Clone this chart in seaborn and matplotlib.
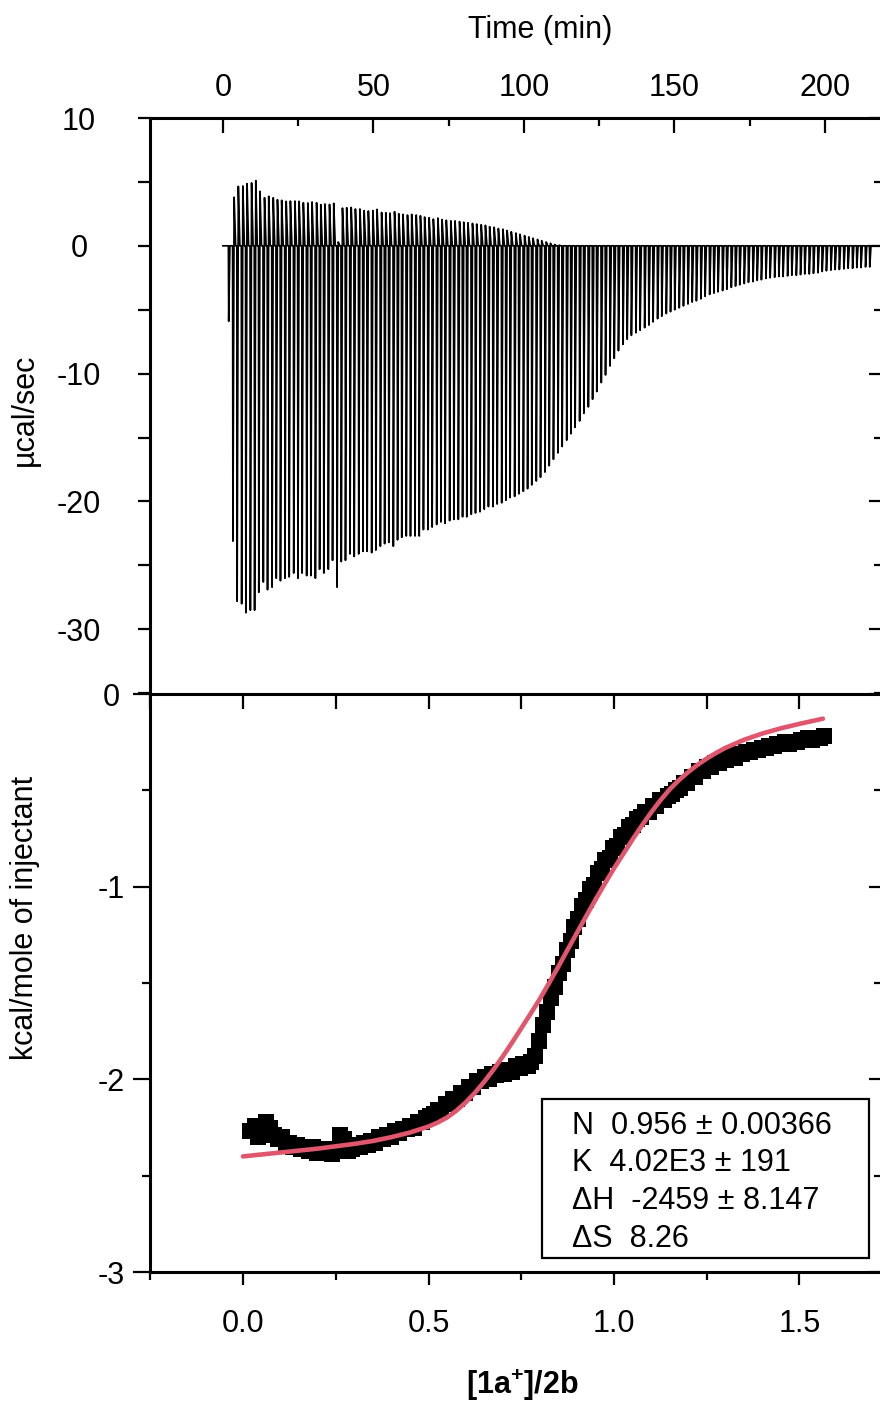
import numpy as np
import pandas as pd
import matplotlib
matplotlib.use("Agg")
import matplotlib.pyplot as plt
from matplotlib.patches import Rectangle
from matplotlib.ticker import MultipleLocator
import seaborn as sns

# ---------------- data ----------------
# injection times (min)
inj_time = [
    1.8, 3.2, 4.6, 6.1, 7.5, 9.0, 10.4, 11.8, 13.3, 14.7,
    16.2, 17.6, 19.0, 20.5, 21.9, 23.4, 24.8, 26.2, 27.7, 29.1,
    30.6, 32.0, 33.4, 34.9, 36.3, 37.8, 39.2, 40.6, 42.1, 43.5,
    45.0, 46.4, 47.8, 49.3, 50.7, 52.2, 53.6, 55.0, 56.5, 57.9,
    59.3, 60.8, 62.2, 63.7, 65.1, 66.5, 68.0, 69.4, 70.9, 72.3,
    73.7, 75.2, 76.6, 78.1, 79.5, 80.9, 82.4, 83.8, 85.3, 86.7,
    88.1, 89.6, 91.0, 92.5, 93.9, 95.3, 96.8, 98.2, 99.7, 101.1,
    102.5, 104.0, 105.4, 106.9, 108.3, 109.7, 111.2, 112.6, 114.1, 115.5,
    116.9, 118.4, 119.8, 121.3, 122.7, 124.1, 125.6, 127.0, 128.5, 129.9,
    131.3, 132.8, 134.2, 135.6, 137.1, 138.5, 140.0, 141.4, 142.8, 144.3,
    145.7, 147.2, 148.6, 150.0, 151.5, 152.9, 154.4, 155.8, 157.2, 158.7,
    160.1, 161.6, 163.0, 164.4, 165.9, 167.3, 168.8, 170.2, 171.6, 173.1,
    174.5, 176.0, 177.4, 178.8, 180.3, 181.7, 183.2, 184.6, 186.0, 187.5,
    188.9, 190.4, 191.8, 193.2, 194.7, 196.1, 197.6, 199.0, 200.4, 201.9,
    203.3, 204.7, 206.2, 207.6, 209.1, 210.5, 211.9, 213.4, 214.8,
]
# most negative value of each injection peak (ucal/sec)
peak_min = [
    -5.9, -23.1, -27.8, -28.0, -28.7, -28.5, -28.5, -27.1, -26.3, -26.9,
    -26.7, -26.0, -26.2, -26.0, -25.9, -25.6, -26.0, -25.6, -25.8, -25.8,
    -26.0, -25.3, -25.6, -25.3, -24.6, -26.7, -24.7, -24.6, -24.1, -24.3,
    -24.1, -23.9, -23.9, -24.0, -23.8, -23.5, -23.3, -23.2, -23.5, -23.0,
    -22.8, -22.7, -22.7, -22.7, -22.7, -22.2, -22.2, -22.0, -21.8, -21.6,
    -21.7, -21.5, -21.4, -21.4, -21.2, -21.2, -21.0, -20.9, -20.8, -20.6,
    -20.4, -20.4, -20.2, -20.1, -19.9, -19.7, -19.6, -19.4, -19.2, -19.0,
    -18.7, -18.4, -18.1, -17.7, -17.2, -16.7, -16.2, -15.7, -15.2, -14.7,
    -14.2, -13.7, -13.1, -12.6, -12.0, -11.4, -10.7, -10.1, -9.4, -8.8,
    -8.2, -7.7, -7.3, -7.0, -6.8, -6.6, -6.4, -6.2, -5.95, -5.7,
    -5.5, -5.3, -5.15, -5.0, -4.85, -4.7, -4.55, -4.4, -4.3, -4.15,
    -3.95, -3.8, -3.7, -3.6, -3.5, -3.4, -3.25, -3.15, -3.05, -2.95,
    -2.85, -2.8, -2.7, -2.65, -2.55, -2.5, -2.45, -2.4, -2.4, -2.35,
    -2.3, -2.3, -2.25, -2.2, -2.2, -2.15, -2.1, -2.0, -1.95, -1.9,
    -1.85, -1.85, -1.8, -1.75, -1.75, -1.7, -1.7, -1.65, -1.65,
]
# positive overshoot of each injection peak (ucal/sec)
peak_max = [
    0.0, 3.8, 4.65, 4.68, 4.86, 4.92, 5.1, 4.26, 3.76, 3.87,
    3.76, 3.61, 3.56, 3.48, 3.5, 3.5, 3.48, 3.37, 3.35, 3.43,
    3.37, 3.22, 3.27, 3.24, 3.32, 0.3, 2.95, 2.98, 3.0, 2.88,
    2.88, 2.75, 2.72, 2.75, 2.85, 2.61, 2.59, 2.56, 2.67, 2.51,
    2.46, 2.41, 2.46, 2.41, 2.35, 2.25, 2.2, 2.09, 2.17, 2.05,
    2.0, 1.95, 1.95, 1.9, 1.85, 1.8, 1.75, 1.7, 1.65, 1.6,
    1.5, 1.45, 1.35, 1.3, 1.2, 1.1, 1.0, 0.9, 0.8, 0.7,
    0.6, 0.5, 0.4, 0.3, 0.2, 0.1, 0.05, 0.0, 0.0, 0.0,
] + [0.0] * 69

# integrated heats
molar_ratio = [
    0.020, 0.031, 0.041, 0.052, 0.062, 0.073, 0.083, 0.094, 0.104, 0.115,
    0.125, 0.136, 0.146, 0.157, 0.167, 0.178, 0.188, 0.199, 0.209, 0.220,
    0.230, 0.241, 0.251, 0.262, 0.272, 0.283, 0.294, 0.304, 0.315, 0.325,
    0.336, 0.346, 0.357, 0.367, 0.378, 0.388, 0.399, 0.409, 0.420, 0.430,
    0.441, 0.451, 0.462, 0.472, 0.483, 0.493, 0.504, 0.514, 0.525, 0.535,
    0.546, 0.557, 0.567, 0.578, 0.588, 0.599, 0.609, 0.620, 0.630, 0.641,
    0.651, 0.662, 0.672, 0.683, 0.693, 0.704, 0.714, 0.725, 0.735, 0.746,
    0.756, 0.767, 0.777, 0.788, 0.799, 0.809, 0.820, 0.830, 0.841, 0.851,
    0.862, 0.872, 0.883, 0.893, 0.904, 0.914, 0.925, 0.935, 0.946, 0.956,
    0.967, 0.977, 0.988, 0.998, 1.009, 1.019, 1.030, 1.040, 1.051, 1.062,
    1.072, 1.083, 1.093, 1.104, 1.114, 1.125, 1.135, 1.146, 1.156, 1.167,
    1.177, 1.188, 1.198, 1.209, 1.219, 1.230, 1.240, 1.251, 1.261, 1.272,
    1.282, 1.293, 1.303, 1.314, 1.325, 1.335, 1.346, 1.356, 1.367, 1.377,
    1.388, 1.398, 1.409, 1.419, 1.430, 1.440, 1.451, 1.461, 1.472, 1.482,
    1.493, 1.503, 1.514, 1.524, 1.535, 1.545, 1.556, 1.566,
]
heat_kcal = [
    -2.27, -2.24, -2.30, -2.25, -2.22, -2.25, -2.29, -2.31, -2.30, -2.34,
    -2.33, -2.35, -2.34, -2.36, -2.35, -2.37, -2.35, -2.38, -2.36, -2.37,
    -2.37, -2.39, -2.36, -2.29, -2.31, -2.37, -2.36, -2.34, -2.35, -2.33,
    -2.34, -2.32, -2.33, -2.30, -2.31, -2.29, -2.30, -2.27, -2.28, -2.26,
    -2.26, -2.24, -2.25, -2.22, -2.22, -2.20, -2.19, -2.18, -2.16, -2.16,
    -2.13, -2.13, -2.10, -2.10, -2.07, -2.07, -2.04, -2.04, -2.01, -2.01,
    -1.99, -2.00, -1.97, -1.98, -1.96, -1.97, -1.95, -1.96, -1.93, -1.94,
    -1.92, -1.93, -1.91, -1.88, -1.80, -1.72, -1.65, -1.58, -1.52, -1.45,
    -1.40, -1.33, -1.28, -1.21, -1.17, -1.10, -1.07, -1.01, -0.99, -0.93,
    -0.91, -0.86, -0.85, -0.80, -0.79, -0.74, -0.73, -0.69, -0.68, -0.65,
    -0.64, -0.61, -0.61, -0.58, -0.58, -0.55, -0.55, -0.53, -0.52, -0.50,
    -0.49, -0.46, -0.46, -0.43, -0.43, -0.40, -0.40, -0.38, -0.38, -0.36,
    -0.36, -0.34, -0.34, -0.32, -0.33, -0.31, -0.31, -0.30, -0.30, -0.29,
    -0.29, -0.28, -0.28, -0.27, -0.27, -0.26, -0.26, -0.25, -0.26, -0.25,
    -0.25, -0.24, -0.24, -0.23, -0.24, -0.23, -0.23, -0.22,
]
# fitted curve
fit_ratio = [0.0, 0.1, 0.2, 0.3, 0.35, 0.4, 0.45, 0.5, 0.525, 0.55, 0.575,
             0.6, 0.625, 0.65, 0.675, 0.7, 0.725, 0.75, 0.775, 0.8, 0.825,
             0.85, 0.875, 0.9, 0.925, 0.95, 0.975, 1.0, 1.025, 1.05, 1.075,
             1.1, 1.125, 1.15, 1.175, 1.2, 1.225, 1.25, 1.275, 1.3, 1.35,
             1.4, 1.45, 1.5, 1.563]
fit_heat = [-2.40, -2.38, -2.36, -2.335, -2.32, -2.30, -2.276, -2.245,
            -2.224, -2.198, -2.163, -2.12, -2.07, -2.013, -1.95, -1.882,
            -1.81, -1.735, -1.66, -1.583, -1.50, -1.415, -1.327, -1.24,
            -1.153, -1.068, -0.985, -0.905, -0.83, -0.755, -0.683, -0.615,
            -0.552, -0.495, -0.447, -0.405, -0.368, -0.335, -0.306, -0.28,
            -0.238, -0.205, -0.178, -0.155, -0.128]

fit_params = ["N  0.956 \u00b1 0.00366",
              "K  4.02E3 \u00b1 191",
              "\u0394H  -2459 \u00b1 8.147",
              "\u0394S  8.26"]

top_xticks = [0, 50, 100, 150, 200]
top_yticks = [10, 0, -10, -20, -30]
bot_xticks = [0.0, 0.5, 1.0, 1.5]
bot_xticklabels = ["0.0", "0.5", "1.0", "1.5"]
bot_yticks = [0, -1, -2, -3]

# ---------------- style ----------------
sns.set_style("white")
plt.rcParams["font.family"] = ["Liberation Sans", "DejaVu Sans"]
plt.rcParams["axes.unicode_minus"] = False
plt.rcParams["mathtext.fontset"] = "custom"
plt.rcParams["mathtext.rm"] = "Liberation Sans"
plt.rcParams["mathtext.bf"] = "Liberation Sans:bold"
for key in ["text.color", "axes.labelcolor", "xtick.color", "ytick.color",
            "axes.edgecolor"]:
    plt.rcParams[key] = "black"
FS = 22

W, H = 880, 1402
fig = plt.figure(figsize=(W / 100, H / 100), dpi=100)
fig.patch.set_facecolor("white")

L, R = 150, 880
T1, B1, B2 = 118, 694, 1272
ax1 = fig.add_axes([L / W, 1 - B1 / H, (R - L) / W, (B1 - T1) / H])
ax2 = fig.add_axes([L / W, 1 - B2 / H, (R - L) / W, (B2 - B1) / H])

# ---------------- thermogram ----------------
tx = [-0.1]
ty = [0.0]
for t, lo, hi in zip(inj_time, peak_min, peak_max):
    tx += [t, t + 0.1, t + 0.5, t + 1.0]
    ty += [0.0, lo, hi, 0.0]
tx.append(218.5)
ty.append(0.0)
thermo = pd.DataFrame({"time": tx, "power": ty})
sns.lineplot(data=thermo, x="time", y="power", sort=False, estimator=None,
             color="black", lw=1.25, ax=ax1)

ax1.set_xlim(-24.25, 218.3)
ax1.set_ylim(-35.06, 9.92)
ax1.set_xlabel("")
ax1.set_ylabel("")
ax1.xaxis.tick_top()
ax1.set_xticks(top_xticks)
ax1.set_xticklabels([str(v) for v in top_xticks])
ax1.xaxis.set_minor_locator(MultipleLocator(25))
ax1.set_yticks(top_yticks)
ax1.set_yticklabels([str(v) for v in top_yticks])
ax1.yaxis.set_minor_locator(MultipleLocator(5))
ax1.tick_params(axis="x", which="major", direction="in", length=11, width=1.6,
                top=True, bottom=False, labeltop=True, labelbottom=False,
                labelsize=FS, pad=11)
ax1.tick_params(axis="x", which="minor", direction="in", length=6, width=1.6,
                top=True, bottom=False)
ax1.tick_params(axis="y", which="major", direction="out", length=9, width=1.6,
                left=True, right=False, labelsize=FS, pad=42)
ax1.tick_params(axis="y", which="minor", direction="out", length=9, width=1.6,
                left=True, right=False)
for lbl in ax1.get_yticklabels():
    lbl.set_horizontalalignment("center")

# ---------------- integrated heats ----------------
heats = pd.DataFrame({"ratio": molar_ratio, "heat": heat_kcal})
sns.scatterplot(data=heats, x="ratio", y="heat", marker="s", s=121,
                color="black", edgecolor="black", linewidth=0, ax=ax2, zorder=3)
fit = pd.DataFrame({"ratio": fit_ratio, "heat": fit_heat})
sns.lineplot(data=fit, x="ratio", y="heat", color="#e0566c", lw=3.3,
             ax=ax2, zorder=4, sort=False, estimator=None)

ax2.set_xlim(-0.2507, 1.717)
ax2.set_ylim(-3.0, 0.0)
ax2.set_xlabel("")
ax2.set_ylabel("")
ax2.set_xticks(bot_xticks)
ax2.set_xticklabels(bot_xticklabels)
ax2.xaxis.set_minor_locator(MultipleLocator(0.25))
ax2.set_yticks(bot_yticks)
ax2.set_yticklabels([str(v) for v in bot_yticks])
ax2.yaxis.set_minor_locator(MultipleLocator(0.5))
ax2.tick_params(axis="x", which="major", direction="out", length=9, width=1.6,
                bottom=True, top=False, labelsize=FS, pad=18)
ax2.tick_params(axis="x", which="minor", direction="out", length=6, width=1.6,
                bottom=True, top=False)
ax2.tick_params(axis="y", which="major", direction="out", length=12, width=1.6,
                left=True, right=False, labelsize=FS, pad=16)
ax2.tick_params(axis="y", which="minor", direction="out", length=6, width=1.6,
                left=True, right=False)
for lbl in ax2.get_yticklabels():
    lbl.set_horizontalalignment("center")

# inward ticks on top edge of lower panel and right edges
sec_top = ax2.secondary_xaxis("top")
sec_top.set_xticks(bot_xticks)
sec_top.set_xticklabels([])
sec_top.xaxis.set_minor_locator(MultipleLocator(0.25))
sec_top.tick_params(which="major", direction="in", length=11, width=1.6)
sec_top.tick_params(which="minor", direction="in", length=11, width=1.6)
sec_top.spines["top"].set_visible(False)

for ax, ticks, minor in [(ax1, top_yticks, 5), (ax2, bot_yticks, 0.5)]:
    sr = ax.secondary_yaxis("right")
    sr.set_yticks(ticks)
    sr.set_yticklabels([])
    sr.yaxis.set_minor_locator(MultipleLocator(minor))
    sr.tick_params(which="major", direction="in", length=8, width=1.6)
    sr.tick_params(which="minor", direction="in", length=4, width=1.6)
    sr.spines["right"].set_visible(False)

for ax in (ax1, ax2):
    ax.set_facecolor("white")
    for side in ["left", "top", "bottom"]:
        ax.spines[side].set_visible(True)
        ax.spines[side].set_linewidth(2.2)
        ax.spines[side].set_color("black")
    ax.spines["right"].set_visible(False)
ax1.spines["bottom"].set_visible(False)

# parameter box
ax2.add_patch(Rectangle((0.806, -2.925), 0.881, 0.821, facecolor="white",
                        edgecolor="black", lw=1.6, zorder=5))
for txt, yv in zip(fit_params, [-2.244, -2.436, -2.629, -2.831]):
    ax2.text(0.887, yv, txt, fontsize=FS, va="center", ha="left", zorder=6)

# axis titles
fig.text(540 / W, 1 - 30 / H, "Time (min)", fontsize=FS, ha="center", va="center")
fig.text(25 / W, 1 - 410 / H, "\u00b5cal/sec", fontsize=FS, ha="center",
         va="center", rotation=90)
fig.text(25 / W, 1 - 918 / H, "kcal/mole of injectant", fontsize=FS,
         ha="center", va="center", rotation=90)
fig.text(522 / W, 1 - 1385 / H, r"$\mathbf{[1a^{+}]/2b}$", fontsize=FS,
         ha="center", va="center")

fig.savefig("out.png", dpi=100, facecolor="white")
